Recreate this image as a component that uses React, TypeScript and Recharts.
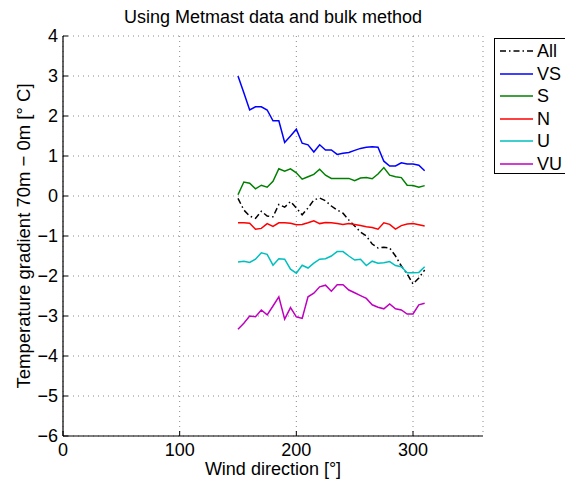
import React from "react";
import { LineChart, Line, XAxis, YAxis, CartesianGrid } from "recharts";

// wind direction bins [deg]
const directions = [
  150, 155, 160, 165, 170, 175, 180, 185, 190, 195, 200, 205, 210, 215, 220, 225,
  230, 235, 240, 245, 250, 255, 260, 265, 270, 275, 280, 285, 290, 295, 300, 305, 310,
];

// temperature gradient 70m - 0m per stability class [deg C]
const allValues = [
  -0.06, -0.35, -0.5, -0.56, -0.38, -0.5, -0.52, -0.21, -0.28, -0.14, -0.3, -0.47, -0.3, -0.1, -0.05, -0.12,
  -0.25, -0.35, -0.43, -0.6, -0.75, -0.9, -1.0, -1.2, -1.3, -1.28, -1.3, -1.5, -1.75, -1.95, -2.2, -2.05, -1.85,
];
const vsValues = [
  3.0, 2.58, 2.15, 2.23, 2.23, 2.15, 1.88, 1.88, 1.34, 1.5, 1.67, 1.32, 1.28, 1.1, 1.28, 1.15,
  1.15, 1.04, 1.07, 1.09, 1.14, 1.19, 1.22, 1.23, 1.22, 0.87, 0.75, 0.75, 0.83, 0.8, 0.8, 0.77, 0.63,
];
const sValues = [
  0.03, 0.35, 0.32, 0.18, 0.27, 0.22, 0.37, 0.68, 0.62, 0.68, 0.58, 0.42, 0.48, 0.54, 0.67, 0.52,
  0.44, 0.44, 0.44, 0.44, 0.38, 0.45, 0.46, 0.43, 0.55, 0.71, 0.52, 0.48, 0.46, 0.27, 0.26, 0.22, 0.26,
];
const nValues = [
  -0.67, -0.67, -0.68, -0.83, -0.81, -0.69, -0.76, -0.67, -0.67, -0.68, -0.72, -0.71, -0.67, -0.62, -0.69, -0.66,
  -0.67, -0.69, -0.71, -0.69, -0.71, -0.74, -0.77, -0.79, -0.83, -0.67, -0.71, -0.83, -0.74, -0.7, -0.69, -0.72, -0.75,
];
const uValues = [
  -1.65, -1.63, -1.66, -1.58, -1.42, -1.46, -1.73, -1.57, -1.58, -1.83, -1.93, -1.73, -1.8, -1.68, -1.58, -1.57,
  -1.5, -1.39, -1.39, -1.5, -1.6, -1.58, -1.74, -1.63, -1.68, -1.67, -1.64, -1.74, -1.77, -1.92, -1.92, -1.91, -1.77,
];
const vuValues = [
  -3.33, -3.18, -3.0, -3.02, -2.85, -2.97, -2.75, -2.52, -3.08, -2.79, -3.02, -3.06, -2.52, -2.43, -2.27, -2.23,
  -2.38, -2.22, -2.22, -2.35, -2.42, -2.49, -2.56, -2.72, -2.78, -2.82, -2.7, -2.82, -2.85, -2.95, -2.95, -2.72, -2.68,
];

const xTicks = [0, 100, 200, 300];
const yTicks = [-6, -5, -4, -3, -2, -1, 0, 1, 2, 3, 4];

const FONT = "'Liberation Sans', Arial, Helvetica, sans-serif";

const series = [
  { key: "all", name: "All", color: "#000000", dash: "6 3 1.5 3" },
  { key: "vs", name: "VS", color: "#0000ff", dash: undefined },
  { key: "s", name: "S", color: "#008000", dash: undefined },
  { key: "n", name: "N", color: "#ff0000", dash: undefined },
  { key: "u", name: "U", color: "#00bfbf", dash: undefined },
  { key: "vu", name: "VU", color: "#bf00bf", dash: undefined },
];

const rows = directions.map((dir, i) => ({
  dir,
  all: allValues[i],
  vs: vsValues[i],
  s: sValues[i],
  n: nValues[i],
  u: uValues[i],
  vu: vuValues[i],
}));

const fmt = (v: number) => (v < 0 ? `\u2212${Math.abs(v)}` : String(v));

const XTitle = () => (
  <text x={273} y={475} textAnchor="middle" fontSize={18} fontFamily={FONT} fill="#000">
    Wind direction [°]
  </text>
);

const YTitle = () => (
  <text
    x={0}
    y={0}
    transform="translate(30 236) rotate(-90)"
    textAnchor="middle"
    fontSize={18.5}
    fontFamily={FONT}
    fill="#000"
  >
    Temperature gradient 70m − 0m [° C]
  </text>
);

// legend box, sits right of the plot and runs off the right edge
const LegendBox = () => (
  <div
    style={{
      position: "absolute",
      left: 494,
      top: 38,
      border: "1px solid #000",
      background: "#fff",
      width: 90,
      height: 136,
      boxSizing: "border-box",
      paddingTop: 1,
      fontFamily: FONT,
      fontSize: 18,
      color: "#000",
    }}
  >
    {series.map((s) => (
      <div key={s.key} style={{ display: "flex", alignItems: "center", height: 22.5 }}>
        <svg width={42} height={10} style={{ display: "block" }}>
          <line
            x1={5}
            x2={38}
            y1={5}
            y2={5}
            stroke={s.color}
            strokeWidth={1.5}
            strokeDasharray={s.dash}
          />
        </svg>
        <span style={{ lineHeight: "20px" }}>{s.name}</span>
      </div>
    ))}
  </div>
);

export default function App() {
  return (
    <div
      style={{
        position: "absolute",
        left: 0,
        top: 0,
        width: 565,
        height: 483,
        overflow: "hidden",
        background: "#fff",
      }}
    >
      <div
        style={{
          position: "absolute",
          left: 0,
          width: 546,
          top: 8,
          textAlign: "center",
          fontFamily: FONT,
          fontSize: 18,
          lineHeight: "18px",
          whiteSpace: "nowrap",
          color: "#000",
        }}
      >
        Using Metmast data and bulk method
      </div>
      <LineChart
        width={565}
        height={483}
        data={rows}
        margin={{ top: 36, right: 82, bottom: 0, left: 0 }}
      >
        <CartesianGrid
          xAxisId="bottom"
          yAxisId="left"
          stroke="#8a8a8a"
          strokeDasharray="1 4"
        />
        <XAxis
          xAxisId="bottom"
          dataKey="dir"
          type="number"
          domain={[0, 360]}
          ticks={xTicks}
          height={47}
          allowDataOverflow
          axisLine={{ stroke: "#000", strokeWidth: 1.2 }}
          tickLine={{ stroke: "#000" }}
          tickSize={-5}
          tickMargin={12}
          tick={{ fill: "#000", fontSize: 18, fontFamily: FONT }}
          label={<XTitle />}
        />
        <XAxis
          xAxisId="top"
          orientation="top"
          dataKey="dir"
          type="number"
          domain={[0, 360]}
          ticks={xTicks}
          height={0}
          allowDataOverflow
          axisLine={{ stroke: "#000", strokeWidth: 1.2 }}
          tickLine={{ stroke: "#000" }}
          tickSize={-5}
          tick={false}
        />
        <YAxis
          yAxisId="left"
          type="number"
          domain={[-6, 4]}
          ticks={yTicks}
          width={63}
          allowDataOverflow
          axisLine={{ stroke: "#000", strokeWidth: 1.2 }}
          tickLine={{ stroke: "#000" }}
          tickSize={-5}
          tickMargin={10}
          tickFormatter={fmt}
          tick={{ fill: "#000", fontSize: 18, fontFamily: FONT }}
          label={<YTitle />}
        />
        <YAxis
          yAxisId="right"
          orientation="right"
          type="number"
          domain={[-6, 4]}
          ticks={yTicks}
          width={0}
          allowDataOverflow
          axisLine={{ stroke: "#000", strokeWidth: 1.2 }}
          tickLine={{ stroke: "#000" }}
          tickSize={-5}
          tick={false}
        />
        {series.map((s) => (
          <Line
            key={s.key}
            xAxisId="bottom"
            yAxisId="left"
            type="linear"
            dataKey={s.key}
            name={s.name}
            stroke={s.color}
            strokeWidth={1.5}
            strokeDasharray={s.dash}
            dot={false}
            activeDot={false}
            isAnimationActive={false}
          />
        ))}
      </LineChart>
      <LegendBox />
    </div>
  );
}
